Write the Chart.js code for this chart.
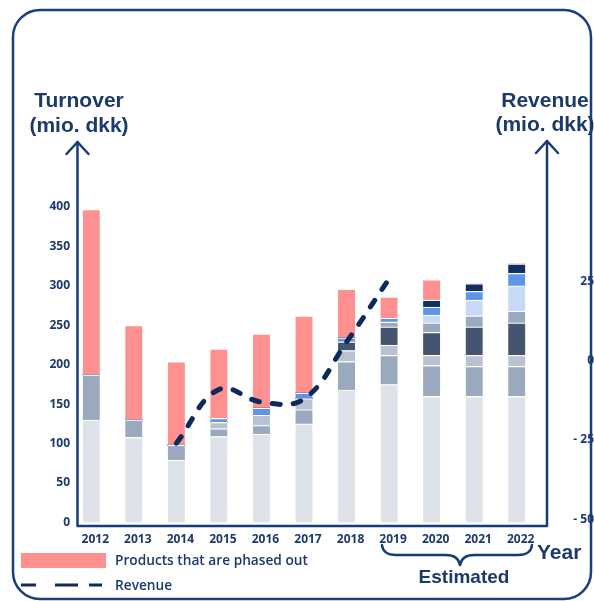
<!DOCTYPE html>
<html>
<head>
<meta charset="utf-8">
<script src="https://cdn.jsdelivr.net/npm/chart.js@4.4.1/dist/chart.umd.min.js"></script>
<style>
  html, body { margin: 0; padding: 0; background: #fff; }
</style>
</head>
<body>
<canvas id="chart" width="594" height="601"></canvas>
<script>
const years = ['2012', '2013', '2014', '2015', '2016', '2017', '2018', '2019', '2020', '2021', '2022']

// turnover parts, mio. dkk, bottom to top
const coreProducts  = [130, 108, 79, 109, 112, 125, 168, 175, 160, 160, 160]
const groupB        = [57, 22, 19, 10, 11, 18, 36, 37, 39, 38, 38]
const groupC        = [0, 0, 0, 8, 13, 14, 14, 13, 13, 14, 14]
const groupD        = [0, 0, 0, 0, 0, 0, 11, 23, 29, 36, 41]
const groupE        = [0, 0, 0, 0, 0, 0, 0, 6, 12, 14, 15]
const groupF        = [0, 0, 0, 0, 0, 0, 0, 0, 10, 20, 32]
const groupG        = [0, 0, 0, 5, 9, 7, 5, 5, 10, 11, 16]
const groupH        = [0, 0, 0, 0, 0, 0, 0, 0, 9, 10, 12]
const phasedOut     = [210, 120, 106, 88, 94, 98, 62, 27, 26, 0, 0]

// revenue, mio. dkk (right axis)
const revenue = [null, null, -26, -9, -13, -12, 6, 26, null, null, null]

const leftTicks = [0, 50, 100, 150, 200, 250, 300, 350, 400]
const rightTicks = [-50, -25, 0, 25]

const NAVY = '#1b3a6b'
const LINE = '#173b75'
const PINK = '#ff9090'

const bar = (label, data, color) => ({
    type: 'bar',
    label: label,
    data: data,
    backgroundColor: color,
    borderColor: '#ffffff',
    borderWidth: { top: 1.2, bottom: 0, left: 0, right: 0 },
    borderSkipped: false,
    barThickness: 17,
    yAxisID: 'y',
    order: 1
})

const decor = {
    id: 'decor',
    afterDraw(chart) {
        const { ctx, chartArea, scales } = chart
        const leftX = chartArea.left + 7.5
        const rightX = chartArea.right + 9
        const baseY = scales.y.getPixelForValue(0) + 3.5

        ctx.save()
        // frame
        ctx.strokeStyle = '#1a3f80'
        ctx.lineWidth = 2.5
        ctx.beginPath()
        ctx.roundRect(13, 10, 578, 589, 27)
        ctx.stroke()

        // axes with arrows
        ctx.strokeStyle = LINE
        ctx.lineWidth = 2.5
        ctx.lineCap = 'round'
        ctx.lineJoin = 'round'
        ctx.beginPath()
        ctx.moveTo(leftX, 142)
        ctx.lineTo(leftX, baseY)
        ctx.lineTo(rightX, baseY)
        ctx.lineTo(rightX, 141)
        ctx.stroke()
        ;[[leftX, 142], [rightX, 141]].forEach(([x, y]) => {
            ctx.beginPath()
            ctx.moveTo(x - 11, y + 12)
            ctx.lineTo(x, y)
            ctx.lineTo(x + 11, y + 12)
            ctx.stroke()
        })

        // axis titles
        ctx.fillStyle = NAVY
        ctx.textAlign = 'center'
        ctx.textBaseline = 'middle'
        ctx.font = 'bold 21px "Liberation Sans", Arial, sans-serif'
        ctx.fillText('Turnover', 79, 101)
        ctx.fillText('(mio. dkk)', 79, 126)
        ctx.fillText('Revenue', 545, 101)
        ctx.fillText('(mio. dkk)', 545, 125)
        ctx.textAlign = 'left'
        ctx.fillText('Year', 537, 553)

        // brace over the estimated years
        ctx.beginPath()
        ctx.moveTo(382, 545)
        ctx.quadraticCurveTo(383, 555, 396, 555)
        ctx.lineTo(446, 555)
        ctx.quadraticCurveTo(458, 555, 460, 565)
        ctx.quadraticCurveTo(462, 555, 474, 555)
        ctx.lineTo(518, 555)
        ctx.quadraticCurveTo(531, 555, 532, 545)
        ctx.stroke()
        ctx.textAlign = 'center'
        ctx.font = 'bold 19px "Liberation Sans", Arial, sans-serif'
        ctx.fillText('Estimated', 464, 578)

        // legend
        const ds = chart.data.datasets
        const pink = ds.find(d => d.backgroundColor === PINK)
        const line = ds.find(d => d.type === 'line')
        ctx.fillStyle = PINK
        ctx.fillRect(21, 553, 85, 15)
        ctx.strokeStyle = line.borderColor
        ctx.lineWidth = 3
        ctx.lineCap = 'butt'
        ;[[21, 36], [55, 78], [89, 102]].forEach(([a, b]) => {
            ctx.beginPath()
            ctx.moveTo(a, 585)
            ctx.lineTo(b, 585)
            ctx.stroke()
        })
        ctx.fillStyle = NAVY
        ctx.textAlign = 'left'
        ctx.font = '600 13.7px "Open Sans", sans-serif'
        ctx.fillText(pink.label, 115, 561)
        ctx.fillText(line.label, 115, 586)
        ctx.restore()
    }
}

new Chart(document.getElementById('chart'), {
    data: {
        labels: years,
        datasets: [
            {
                type: 'line',
                label: 'Revenue',
                data: revenue,
                yAxisID: 'y1',
                borderColor: '#0d2a5c',
                borderWidth: 5,
                borderDash: [8, 13],
                borderCapStyle: 'round',
                tension: 0.4,
                pointRadius: 0,
                fill: false,
                order: 0
            },
            bar('Core products', coreProducts, '#dee2e9'),
            bar('Product group B', groupB, '#9ba9be'),
            bar('Product group C', groupC, '#bac2d0'),
            bar('Product group D', groupD, '#46556f'),
            bar('Product group E', groupE, '#9ba9be'),
            bar('Product group F', groupF, '#c6daf7'),
            bar('Product group G', groupG, '#5e95e8'),
            bar('Product group H', groupH, '#112f63'),
            bar('Products that are phased out', phasedOut, PINK)
        ]
    },
    options: {
        responsive: false,
        animation: false,
        devicePixelRatio: 1,
        layout: { padding: { top: 207, bottom: 48, left: 0, right: 0 } },
        plugins: {
            legend: { display: false },
            tooltip: { enabled: false }
        },
        scales: {
            x: {
                stacked: true,
                grid: { display: false },
                border: { display: false },
                ticks: {
                    color: NAVY,
                    font: { family: '"Open Sans", sans-serif', size: 12, weight: 'bold' },
                    padding: 2,
                    labelOffset: 4,
                    maxRotation: 0
                },
                afterFit: s => { s.height = 30.5 }
            },
            y: {
                stacked: true,
                position: 'left',
                min: 0,
                max: 400,
                grid: { display: false, drawTicks: false },
                border: { display: false },
                ticks: {
                    color: NAVY,
                    font: { family: '"Open Sans", sans-serif', size: 12, weight: 'bold' },
                    padding: 0
                },
                afterBuildTicks: s => { s.ticks = leftTicks.map(v => ({ value: v })) },
                afterFit: s => { s.width = 70 }
            },
            y1: {
                position: 'right',
                min: -51.07,
                max: 48.67,
                grid: { display: false, drawTicks: false },
                border: { display: false },
                ticks: {
                    color: NAVY,
                    font: { family: '"Open Sans", sans-serif', size: 12, weight: 'bold' },
                    padding: 16,
                    crossAlign: 'far',
                    callback: v => v < 0 ? '- ' + Math.abs(v) : String(v)
                },
                afterBuildTicks: s => { s.ticks = rightTicks.map(v => ({ value: v })) },
                afterFit: s => { s.width = 56 }
            }
        }
    },
    plugins: [decor]
})
</script>
</body>
</html>
